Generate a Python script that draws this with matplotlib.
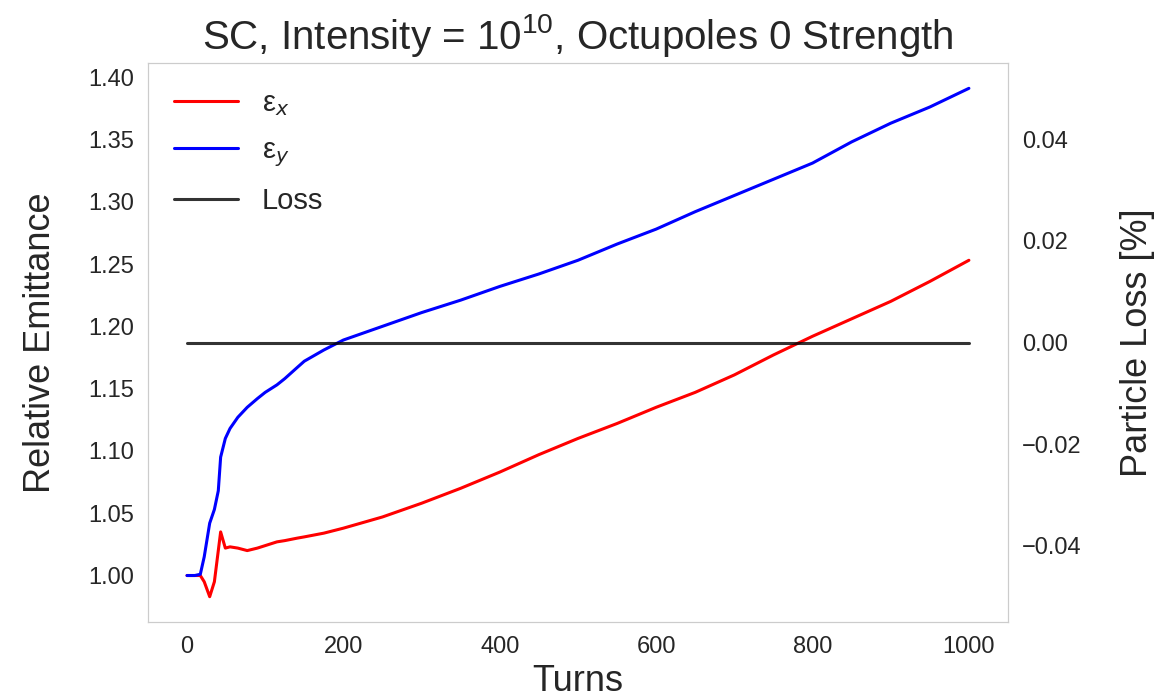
import matplotlib
matplotlib.use("Agg")
import matplotlib.pyplot as plt
import seaborn as sns

sns.set_style("white")
plt.rcParams["font.family"] = ["Liberation Sans", "DejaVu Sans"]

# emittance growth vs. turn number
turns = [0, 10, 17, 22, 29, 35, 40, 43, 49, 55, 65, 77, 90, 100, 115, 125, 141,
         150, 175, 200, 250, 300, 350, 400, 450, 500, 550, 600, 650, 700, 750,
         800, 850, 900, 950, 1000]
eps_x = [1.000, 1.000, 1.000, 0.995, 0.983, 0.995, 1.020, 1.035, 1.022, 1.023,
         1.022, 1.020, 1.022, 1.024, 1.027, 1.028, 1.030, 1.031, 1.034, 1.038,
         1.047, 1.058, 1.070, 1.083, 1.097, 1.110, 1.122, 1.135, 1.147, 1.161,
         1.177, 1.192, 1.206, 1.220, 1.236, 1.253]
eps_y = [1.000, 1.000, 1.001, 1.015, 1.042, 1.053, 1.068, 1.095, 1.110, 1.118,
         1.127, 1.135, 1.142, 1.147, 1.153, 1.158, 1.167, 1.172, 1.181, 1.189,
         1.200, 1.211, 1.221, 1.232, 1.242, 1.253, 1.266, 1.278, 1.292, 1.305,
         1.318, 1.331, 1.348, 1.363, 1.376, 1.391]
loss_turns = [0, 1000]
loss = [0.0, 0.0]

fig = plt.figure(figsize=(11.74, 6.99), dpi=100)
ax = fig.add_axes([0.126, 0.110, 0.7326, 0.800])
ax2 = ax.twinx()

l1, = ax.plot(turns, eps_x, color="r", lw=2.2, label="ε$_x$")
l2, = ax.plot(turns, eps_y, color="b", lw=2.2, label="ε$_y$")
l3, = ax2.plot(loss_turns, loss, color="k", alpha=0.8, lw=2.2, label="Loss")

ax.set_xticks([0, 200, 400, 600, 800, 1000])
ax.set_xlabel("Turns", fontsize=26, color=".15", labelpad=4)
ax.set_ylabel("Relative Emittance", fontsize=26, color=".15", labelpad=22)
ax2.set_ylabel("Particle Loss [%]", fontsize=26, color=".15", labelpad=28)
ax.set_title(r"SC, Intensity = $\mathregular{10^{10}}$, Octupoles 0 Strength",
             fontsize=29, color=".15", pad=10)

for a in (ax, ax2):
    a.tick_params(length=0, pad=10, labelsize=17, labelcolor=".15")
    for s in a.spines.values():
        s.set_color(".8")

ax.legend(handles=[l1, l2, l3], loc="upper left", frameon=False, fontsize=21,
          handlelength=2.2, labelspacing=0.62)

fig.savefig("out.png", dpi=100)
